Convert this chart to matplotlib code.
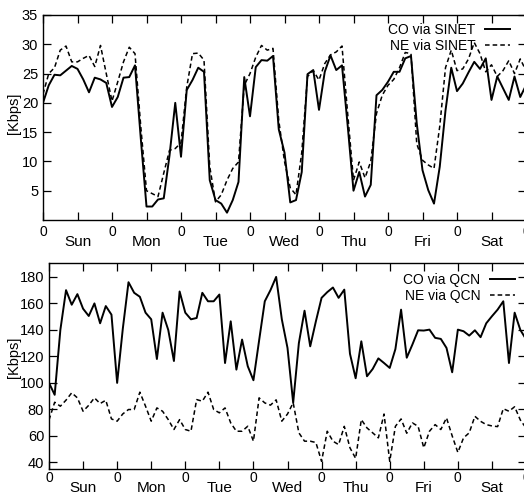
import numpy as np
import matplotlib
matplotlib.use("Agg")
import matplotlib.pyplot as plt

plt.rcParams["font.family"] = ["Liberation Sans", "DejaVu Sans"]

# two-hourly samples over one week (hours from Sunday 0:00)
hours = np.arange(85) * 2
days = ["Sun", "Mon", "Tue", "Wed", "Thu", "Fri", "Sat"]

co_sinet = [
    20.0, 23.0, 24.8, 24.7, 25.5, 26.3, 25.8, 24.0, 21.8, 24.3, 24.0, 23.4, 19.3,
    21.0, 24.3, 24.4, 26.4, 14.0, 2.3, 2.3, 3.5, 3.7, 11.0, 20.0, 10.8,
    22.2, 23.9, 26.0, 25.3, 6.8, 3.4, 2.8, 1.25, 3.4, 6.5, 24.4, 17.7,
    26.1, 27.3, 27.2, 28.0, 15.5, 11.5, 3.0, 3.4, 8.2, 24.9, 25.6, 18.8,
    25.3, 28.1, 25.6, 26.4, 16.0, 5.0, 8.2, 4.0, 6.0, 21.3, 22.2, 23.6,
    25.3, 25.3, 27.6, 28.0, 16.5, 8.5, 5.1, 2.8, 9.1, 18.7, 26.0, 22.0,
    23.3, 25.2, 27.0, 25.8, 27.6, 20.5, 24.5, 22.5, 20.5, 24.5, 21.0, 23.0,
]
ne_sinet = [
    21.5, 25.0, 26.0, 29.0, 29.7, 27.0, 27.0, 27.6, 28.1, 26.2, 29.8, 25.0, 20.3,
    23.6, 27.0, 29.5, 28.4, 16.0, 5.0, 4.5, 4.0, 8.0, 11.9, 12.2, 13.2,
    22.7, 28.4, 28.5, 27.3, 9.1, 3.1, 4.3, 6.8, 8.8, 9.9, 23.0, 25.0,
    27.8, 29.8, 29.0, 29.3, 17.0, 10.0, 5.5, 4.3, 11.5, 24.5, 25.5, 23.9,
    26.7, 28.2, 28.7, 29.7, 18.0, 6.8, 9.9, 7.2, 10.0, 18.2, 21.3, 23.0,
    24.0, 26.0, 28.6, 28.4, 13.0, 10.2, 9.4, 8.8, 16.0, 26.0, 29.0, 25.5,
    25.8, 27.5, 30.3, 28.4, 25.3, 26.5, 24.5, 25.5, 27.2, 25.0, 27.5, 25.5,
]
co_qcn = [
    100, 91, 140, 170, 159, 167, 156, 150.5, 160, 145, 158, 151.5, 100,
    141, 176, 168, 165, 153, 148, 118, 153, 140, 116.5, 169, 153,
    148, 149, 168, 161.6, 161.6, 166.7, 115, 146.5, 110, 132.7, 112.6, 102,
    132, 161.6, 170, 180, 148, 126.4, 85, 130, 154.5, 127.6, 146.5, 164.2,
    168.5, 172, 164.2, 170.4, 122, 103.5, 131.4, 105, 110.5, 118.5, 115, 111.3,
    125.5, 155.3, 119, 129, 139.7, 139.5, 140.2, 134, 133.2, 126.4, 108, 140.2,
    139, 135.7, 139.7, 134.5, 145, 150.3, 155.3, 161.6, 115, 153, 140, 133,
]
ne_qcn = [
    72, 85.4, 82.4, 87, 92.5, 88.7, 78.6, 83.1, 88.7, 84.4, 86.9, 72.8, 71.1,
    76.6, 79.9, 79.9, 93, 82.4, 71.1, 81.1, 78.6, 72.3, 64.8, 72.3, 64.8,
    63.5, 87.4, 86.2, 93, 79.9, 77.4, 81.1, 69.8, 63.5, 63.5, 67.3, 56,
    88.7, 84.9, 83.2, 87.2, 71.1, 76.5, 85, 62.3, 56, 56, 55, 40.8,
    63.5, 56, 53.4, 67.2, 51, 43, 72.3, 66, 62.3, 58.5, 76.5, 40.8,
    67.2, 72.8, 62, 69.8, 67.2, 51, 63.5, 68.5, 64.8, 73.6, 60, 47.5,
    58.5, 62.3, 74.8, 71, 68.5, 67.5, 67, 80.5, 78.6, 82, 72, 66,
]

panels = [
    dict(rect=[43 / 524, 1 - 220 / 496, 483 / 524, 205 / 496],
         co=co_sinet, ne=ne_sinet, net="SINET",
         ylim=(0, 35), yticks=np.arange(5, 36, 5),
         pad0=3.5, padday=11.0, ylab_x=-0.045, ylab_y=0.52,
         leg=(0.967, 0.962)),
    dict(rect=[49 / 524, 1 - 469 / 496, 477 / 524, 206 / 496],
         co=co_qcn, ne=ne_qcn, net="QCN",
         ylim=(35, 190.5), yticks=np.arange(40, 181, 20),
         pad0=1.5, padday=8.5, ylab_x=-0.058, ylab_y=0.54,
         leg=(0.977, 0.953)),
]

fig = plt.figure(figsize=(5.24, 4.96), dpi=100)

for p in panels:
    ax = fig.add_axes(p["rect"])
    ax.plot(hours, p["co"], color="black", lw=1.4, label=f"CO via {p['net']}")
    ax.plot(hours, p["ne"], color="black", lw=1.1, dashes=(3, 2),
            label=f"NE via {p['net']}")

    ax.set_xlim(0, 168)
    ax.set_ylim(*p["ylim"])
    ax.set_yticks(p["yticks"])

    ax.set_xticks(np.arange(0, 169, 24))
    ax.set_xticklabels(["0"] * 8)
    ax.set_xticks(np.arange(12, 168, 24), minor=True)
    ax.set_xticklabels(days, minor=True)

    ax.tick_params(which="both", direction="in", top=True, right=True,
                   length=6, width=0.9, labelsize=10.5)
    ax.tick_params(axis="x", which="major", pad=p["pad0"], labelsize=10)
    ax.tick_params(axis="x", which="minor", pad=p["padday"], labelsize=11)

    ax.set_ylabel("[Kbps]", fontsize=10.5)
    ax.yaxis.set_label_coords(p["ylab_x"], p["ylab_y"])

    for s in ax.spines.values():
        s.set_linewidth(1.0)

    ax.legend(loc="upper right", bbox_to_anchor=p["leg"], frameon=False,
              markerfirst=False, fontsize=10, handlelength=1.8,
              handletextpad=0.7, labelspacing=0.15, borderpad=0,
              borderaxespad=0)

fig.savefig("out.png", dpi=100)
